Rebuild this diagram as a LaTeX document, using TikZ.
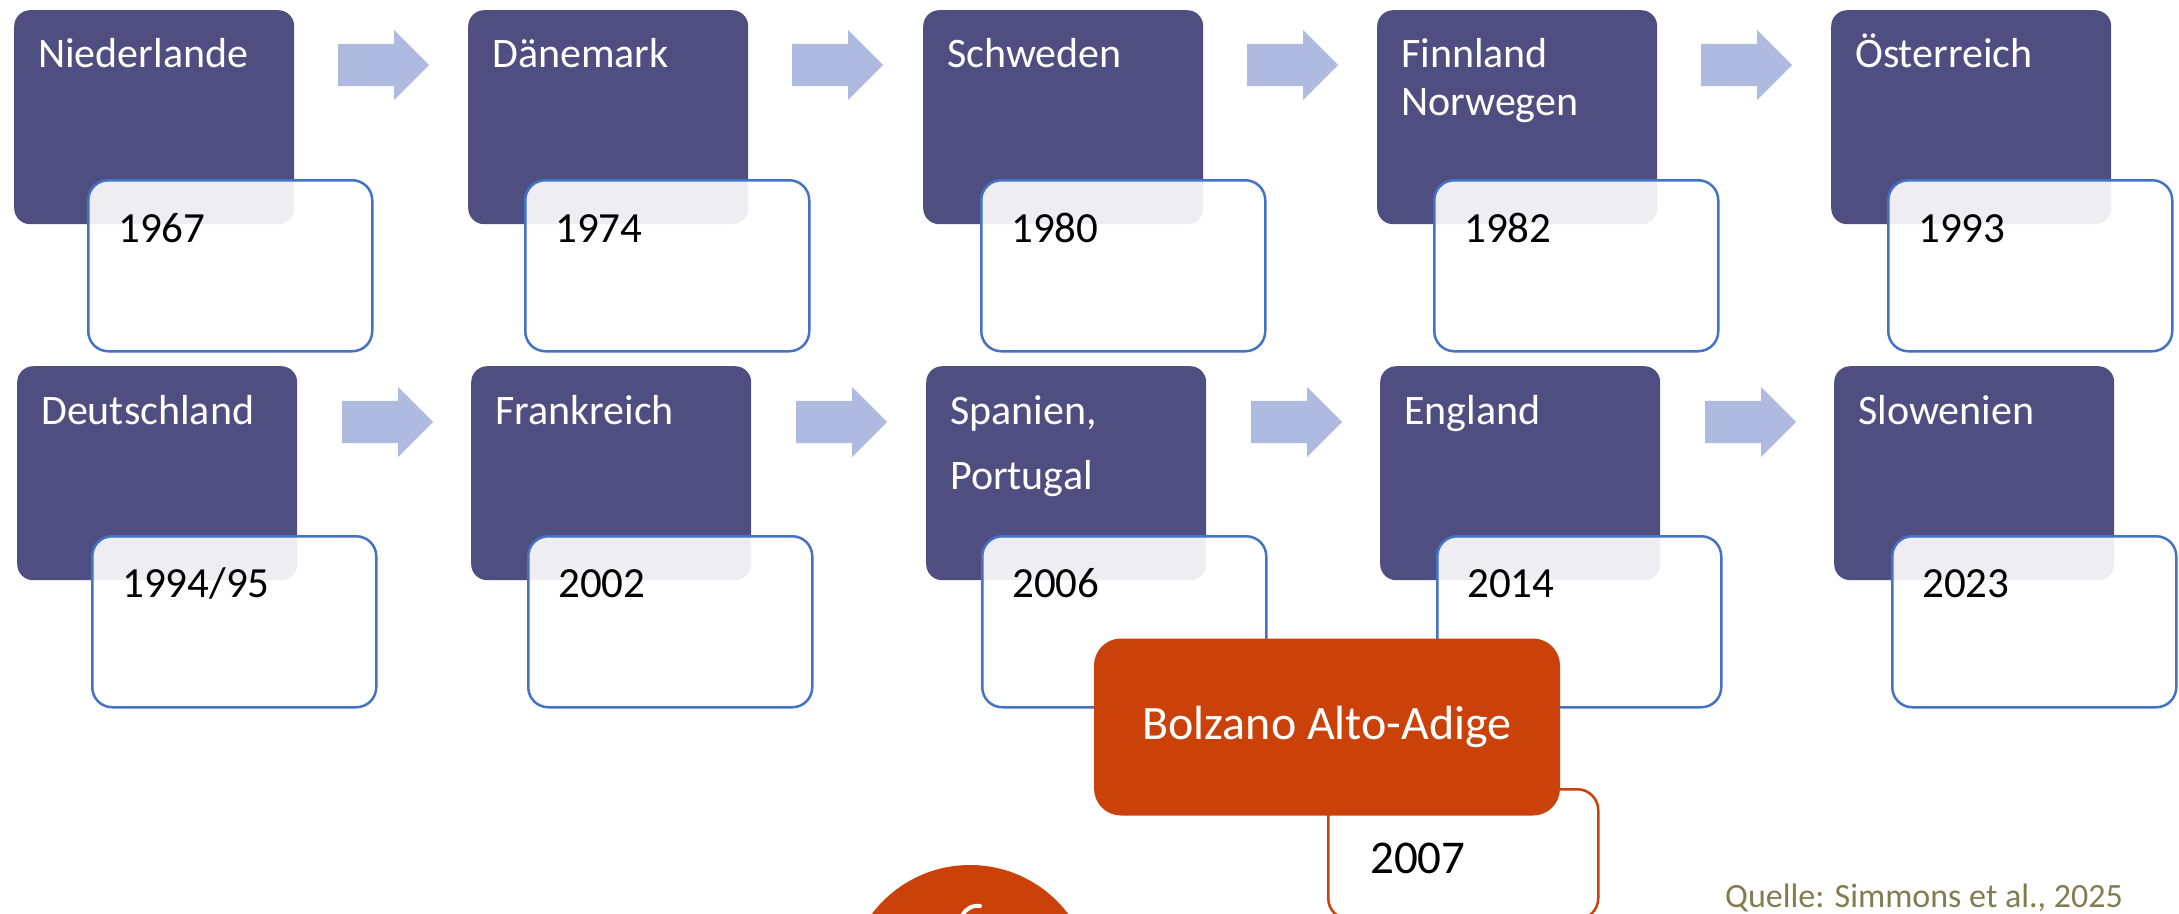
\documentclass[tikz,border=0pt]{standalone}
\usepackage{fontspec}
\setmainfont{Carlito}
\usetikzlibrary{positioning,shapes.arrows}
\definecolor{landfill}{HTML}{4F4E81}
\definecolor{yearline}{HTML}{4472C4}
\definecolor{stepfill}{HTML}{AEBADF}
\definecolor{bzorange}{HTML}{CA4209}
\definecolor{srcolive}{HTML}{827D50}

\tikzset{
  landbox/.style={rectangle, rounded corners=16pt, fill=landfill, draw=none,
    minimum width=280pt, minimum height=214pt, anchor=north west, inner sep=0pt},
  yearbox/.style={rectangle, rounded corners=20pt, draw=yearline, line width=2.5pt,
    fill=white, fill opacity=0.9, minimum width=284pt, minimum height=171pt,
    anchor=north west, inner sep=0pt},
  landname/.style={text=white, font=\fontsize{42}{48}\selectfont, anchor=base west, inner sep=0pt},
  yeartext/.style={text=black, font=\fontsize{43}{50}\selectfont, anchor=base west, inner sep=0pt},
  stepper/.style={single arrow, fill=stepfill, draw=none, anchor=tail,
    minimum height=91pt, inner xsep=0pt, inner ysep=21pt, single arrow head extend=14pt},
}

\begin{document}
\begin{tikzpicture}[x=1pt,y=-1pt]
\useasboundingbox (0,0) rectangle (2179,913);

% upper row
\node[landbox] (nl) at (14,10) {};
\node[landname] (nlname) at (38,67) {Niederlande};
\node[yearbox] (nlyear) at (87,179) {};
\node[yeartext] (nltxt) at (118,242) {1967};

\node[landbox] (dk) at (468,10) {};
\node[landname] (dkname) at (492,67) {Dänemark};
\node[yearbox] (dkyear) at (524,179) {};
\node[yeartext] (dktxt) at (555,242) {1974};

\node[landbox] (se) at (923,10) {};
\node[landname] (sename) at (947,67) {Schweden};
\node[yearbox] (seyear) at (980,179) {};
\node[yeartext] (setxt) at (1011,242) {1980};

\node[landbox] (fi) at (1377,10) {};
\node[landname] (finame) at (1401,67) {Finnland};
\node[landname] (noname) at (1401,115) {Norwegen};
\node[yearbox] (fiyear) at (1433,179) {};
\node[yeartext] (fitxt) at (1464,242) {1982};

\node[landbox] (at) at (1831,10) {};
\node[landname] (atname) at (1855,67) {Österreich};
\node[yearbox] (atyear) at (1887,179) {};
\node[yeartext] (attxt) at (1918,242) {1993};

\node[stepper] (s1) at (338,65) {};
\node[stepper] (s2) at (792,65) {};
\node[stepper] (s3) at (1247,65) {};
\node[stepper] (s4) at (1701,65) {};

% lower row
\node[landbox] (de) at (17,366) {};
\node[landname] (dename) at (41,424) {Deutschland};
\node[yearbox] (deyear) at (91,535) {};
\node[yeartext] (detxt) at (122,597) {1994/95};

\node[landbox] (fr) at (471,366) {};
\node[landname] (frname) at (495,424) {Frankreich};
\node[yearbox] (fryear) at (527,535) {};
\node[yeartext] (frtxt) at (558,597) {2002};

\node[landbox] (es) at (926,366) {};
\node[landname] (esname) at (950,424) {Spanien,};
\node[landname] (ptname) at (950,489) {Portugal};
\node[yearbox] (esyear) at (981,535) {};
\node[yeartext] (estxt) at (1012,597) {2006};

\node[landbox] (en) at (1380,366) {};
\node[landname] (enname) at (1404,424) {England};
\node[yearbox] (enyear) at (1436,535) {};
\node[yeartext] (entxt) at (1467,597) {2014};

\node[landbox] (si) at (1834,366) {};
\node[landname] (siname) at (1858,424) {Slowenien};
\node[yearbox] (siyear) at (1891,535) {};
\node[yeartext] (sitxt) at (1922,597) {2023};

\node[stepper] (s5) at (342,422) {};
\node[stepper] (s6) at (796,422) {};
\node[stepper] (s7) at (1251,422) {};
\node[stepper] (s8) at (1705,422) {};

% Bolzano
\node[yearbox, draw=bzorange, fill opacity=1, rounded corners=21pt,
  minimum width=270pt, minimum height=130pt] (bzyear) at (1327,788) {};
\node[yeartext, font=\fontsize{47}{52}\selectfont] (bztxt) at (1370,873) {2007};
\node[rectangle, rounded corners=27pt, fill=bzorange, text=white,
  minimum width=466pt, minimum height=177pt, inner sep=0pt,
  font=\fontsize{48}{54}\selectfont] (bz) at (1327,727) {Bolzano Alto-Adige};

\node[circle, fill=bzorange, minimum size=246pt, inner sep=0pt] (seal) at (970,988) {};
\draw[white, line width=4pt, line cap=round] (963,914) .. controls (968,907) and (974,905) .. (980,906);

\node[text=srcolive, font=\fontsize{34}{40}\selectfont, anchor=base west, inner sep=0pt]
  (src) at (1725,907) {Quelle: Simmons et al., 2025};
\end{tikzpicture}
\end{document}
